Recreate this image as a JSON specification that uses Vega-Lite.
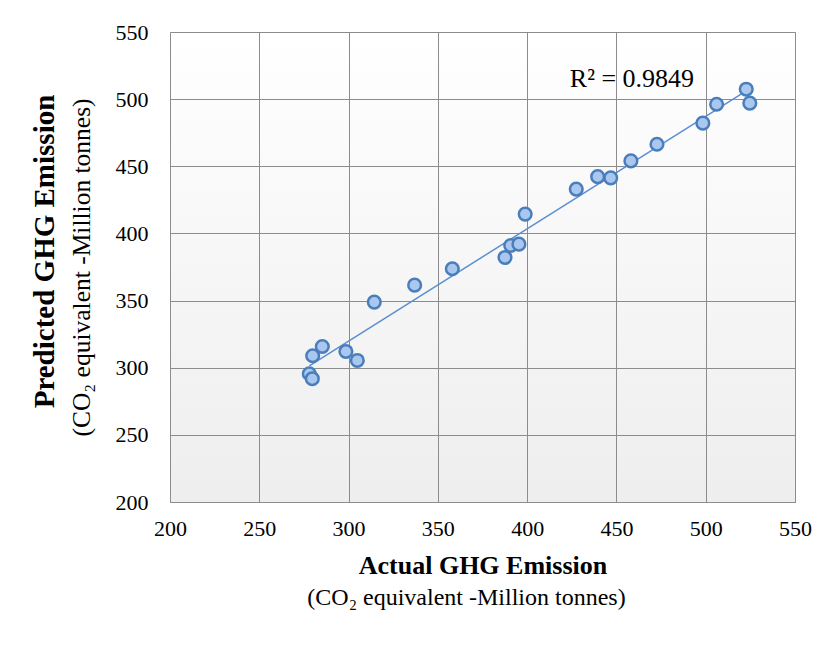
{
  "$schema": "https://vega.github.io/schema/vega-lite/v6.json",
  "width": 625,
  "height": 470,
  "autosize": "none",
  "padding": {"left": 170, "top": 32, "right": 36, "bottom": 145},
  "background": "white",
  "view": {
    "stroke": "#a6a6a6",
    "strokeWidth": 1,
    "fill": {"gradient": "linear", "x1": 0, "y1": 0, "x2": 0, "y2": 1, "stops": [{"offset": 0, "color": "#ffffff"}, {"offset": 1, "color": "#eeeeee"}]}
  },
  "config": {
    "font": "Liberation Serif",
    "axis": {"labelFont": "Liberation Serif", "titleFont": "Liberation Serif", "labelColor": "#000000", "titleColor": "#000000"}
  },
  "data": {
    "values": [
      {"actual": 278.0, "pred": 295.5},
      {"actual": 279.7, "pred": 291.8},
      {"actual": 279.9, "pred": 308.9},
      {"actual": 285.3, "pred": 315.8},
      {"actual": 298.5, "pred": 312.1},
      {"actual": 304.9, "pred": 305.4},
      {"actual": 314.4, "pred": 348.9},
      {"actual": 337.0, "pred": 361.5},
      {"actual": 358.1, "pred": 373.7},
      {"actual": 387.6, "pred": 382.1},
      {"actual": 390.8, "pred": 391.0},
      {"actual": 395.4, "pred": 392.0},
      {"actual": 398.9, "pred": 414.4},
      {"actual": 427.5, "pred": 433.0},
      {"actual": 439.5, "pred": 442.3},
      {"actual": 446.8, "pred": 441.4},
      {"actual": 458.1, "pred": 454.0},
      {"actual": 472.7, "pred": 466.4},
      {"actual": 498.4, "pred": 482.1},
      {"actual": 506.1, "pred": 496.2},
      {"actual": 522.7, "pred": 507.4},
      {"actual": 524.7, "pred": 497.0}
    ]
  },
  "resolve": {"axis": {"x": "independent", "y": "independent"}},
  "layer": [
    {
      "transform": [{"regression": "pred", "on": "actual"}],
      "mark": {"type": "line", "color": "#5b8fd0", "strokeWidth": 1.5},
      "encoding": {
        "x": {
          "field": "actual", "type": "quantitative",
          "scale": {"domain": [200, 550], "nice": false, "zero": false},
          "axis": {"orient": "bottom", "title": "(CO₂ equivalent -Million tonnes)", "labels": false, "ticks": false, "domain": false, "grid": false, "titleFontSize": 24, "titleFontWeight": "normal", "titlePadding": 83, "titleX": 296}
        },
        "y": {
          "field": "pred", "type": "quantitative",
          "scale": {"domain": [200, 550], "nice": false, "zero": false},
          "axis": {"orient": "left", "title": "Predicted GHG Emission", "labels": false, "ticks": false, "domain": false, "grid": false, "titleFontSize": 29, "titleFontWeight": "bold", "titlePadding": 111, "titleY": 219}
        }
      }
    },
    {
      "mark": {"type": "circle", "size": 160, "fill": "#a9c7ef", "stroke": "#4a7ebb", "strokeWidth": 2.5, "opacity": 1},
      "encoding": {
        "x": {
          "field": "actual", "type": "quantitative",
          "axis": {"orient": "bottom", "title": "Actual GHG Emission", "values": [200, 250, 300, 350, 400, 450, 500, 550], "labelFontSize": 22, "labelPadding": 16, "ticks": false, "domain": false, "grid": true, "gridColor": "#8c8c8c", "gridWidth": 1, "gridOpacity": 1, "titleFontSize": 26, "titleFontWeight": "bold", "titlePadding": 13, "labelFlush": false}
        },
        "y": {
          "field": "pred", "type": "quantitative",
          "axis": {"orient": "left", "title": "(CO₂ equivalent -Million tonnes)", "values": [200, 250, 300, 350, 400, 450, 500, 550], "labelFontSize": 22, "labelPadding": 22, "ticks": false, "domain": false, "grid": true, "gridColor": "#8c8c8c", "gridWidth": 1, "gridOpacity": 1, "titleFontSize": 25.5, "titleFontWeight": "normal", "titlePadding": 21, "labelFlush": false}
        }
      }
    },
    {
      "data": {"values": [{"label": "R² = 0.9849", "actual": 458.7, "pred": 515}]},
      "mark": {"type": "text", "fontSize": 26, "font": "Liberation Serif", "color": "#000000", "baseline": "middle", "align": "center"},
      "encoding": {
        "x": {"field": "actual", "type": "quantitative", "axis": null},
        "y": {"field": "pred", "type": "quantitative", "axis": null},
        "text": {"field": "label"}
      }
    }
  ]
}
